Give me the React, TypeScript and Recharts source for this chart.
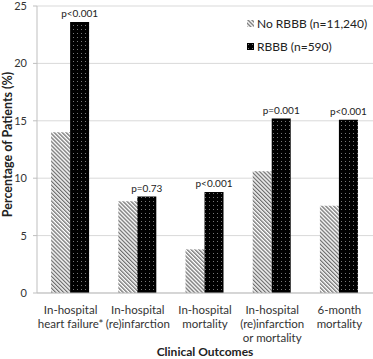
import React from 'react';
import { BarChart, Bar, XAxis, YAxis, CartesianGrid, LabelList } from 'recharts';

const categories = [
  'In-hospital|heart failure*',
  'In-hospital|(re)infarction',
  'In-hospital|mortality',
  'In-hospital|(re)infarction|or mortality',
  '6-month|mortality',
];
const noRbbb = [14.0, 8.0, 3.8, 10.6, 7.6];
const rbbb = [23.6, 8.4, 8.8, 15.2, 15.1];
const pValues = ['p<0.001', 'p=0.73', 'p<0.001', 'p=0.001', 'p<0.001'];
const yTicks = [0, 5, 10, 15, 20, 25];
const legendLabels = ['No RBBB (n=11,240)', 'RBBB (n=590)'];

const data = categories.map((c, i) => ({ name: c, noRbbb: noRbbb[i], rbbb: rbbb[i], p: pValues[i] }));

const FONT = 'Lato, "Open Sans", sans-serif';

const XTick = (props: any) => {
  const { x, y, payload } = props;
  const lines = String(payload.value).split('|');
  return (
    <g transform={`translate(${x},${y})`}>
      {lines.map((l, i) => (
        <text key={i} x={0} y={13 + i * 14} textAnchor="middle" fontSize={11.5} fill="#333" fontFamily={FONT}>
          {l}
        </text>
      ))}
    </g>
  );
};

const PLabel = (props: any) => {
  const { x, y, width, index } = props;
  return (
    <text x={x + width / 2} y={y - 5} textAnchor="middle" fontSize={10} fill="#222" fontFamily={FONT}>
      {pValues[index]}
    </text>
  );
};

const fills = ['url(#hatch)', 'url(#dots)'];

export default function App() {
  return (
    <div style={{ position: 'absolute', left: 0, top: 0, width: 373, height: 359, background: '#fff' }}>
      <BarChart
        width={373}
        height={359}
        data={data}
        margin={{ top: 6, right: 0, left: 0, bottom: 0 }}
        barCategoryGap="21%"
        barGap={0}
      >
        <defs>
          <pattern id="hatch" width={2.8} height={2.8} patternUnits="userSpaceOnUse" patternTransform="rotate(-45)">
            <rect width={2.8} height={2.8} fill="#fff" />
            <rect x={0} y={0} width={1.3} height={2.8} fill="#6e6e6e" />
          </pattern>
          <pattern id="dots" width={4} height={4} patternUnits="userSpaceOnUse">
            <rect width={4} height={4} fill="#000" />
            <rect x={1} y={1} width={1} height={1} fill="#777" />
          </pattern>
        </defs>
        <CartesianGrid vertical={false} stroke="#d9d9d9" />
        <XAxis
          dataKey="name"
          tick={<XTick />}
          tickLine={false}
          axisLine={{ stroke: '#bfbfbf' }}
          height={66}
          interval={0}
          label={{ value: 'Clinical Outcomes', position: 'insideBottom', offset: 3, fontSize: 12, fontWeight: 'bold', fill: '#222', fontFamily: FONT }}
        />
        <YAxis
          width={37}
          domain={[0, 25]}
          ticks={yTicks}
          interval={0}
          tick={{ fontSize: 11, fill: '#333', fontFamily: FONT }}
          tickLine={{ stroke: '#bfbfbf' }}
          tickSize={4}
          tickMargin={6}
          axisLine={{ stroke: '#bfbfbf' }}
          label={{ value: 'Percentage of Patients (%)', angle: -90, position: 'insideLeft', offset: 8, dy: -5, textAnchor: 'middle', fontSize: 12.5, fontWeight: 'bold', fill: '#222', fontFamily: FONT }}
        />
        <Bar dataKey="noRbbb" fill="url(#hatch)" isAnimationActive={false} />
        <Bar dataKey="rbbb" fill="url(#dots)" isAnimationActive={false}>
          <LabelList dataKey="p" content={<PLabel />} />
        </Bar>
      </BarChart>
      <div style={{ position: 'absolute', left: 247, top: 12, fontFamily: FONT, fontSize: 12, color: '#222', lineHeight: '23px' }}>
        {legendLabels.map((label, i) => (
          <div key={label} style={{ display: 'flex', alignItems: 'center', whiteSpace: 'nowrap' }}>
            <svg width={7} height={7} style={{ marginRight: 3 }}>
              <rect x={0} y={0} width={7} height={7} fill={fills[i]} />
            </svg>
            <span>{label}</span>
          </div>
        ))}
      </div>
    </div>
  );
}
